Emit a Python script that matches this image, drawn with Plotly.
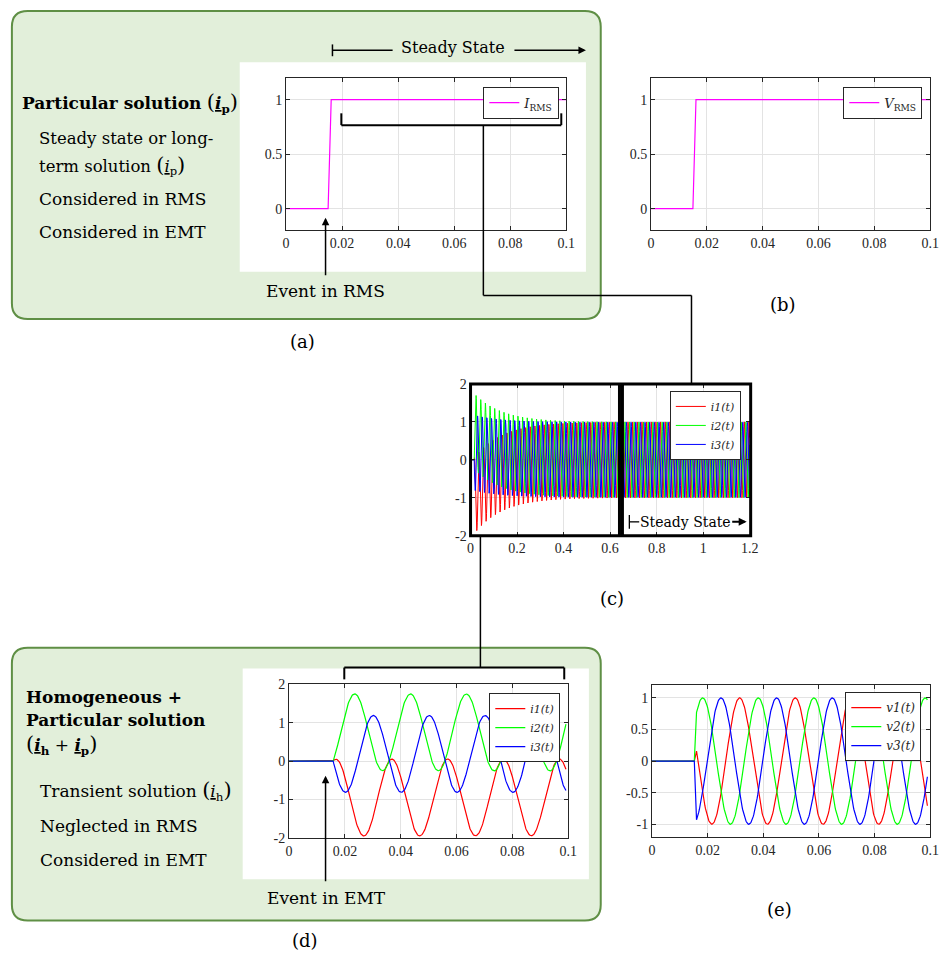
import re
import numpy as np
import plotly.graph_objects as go

W, H = 952, 963


def px(x):
    return x / W


def py(y):
    return 1 - y / H


# ---------------- data ----------------
rms_time = [0.0, 0.0150, 0.0161, 0.1]
i_rms = [0.0, 0.0, 1.0, 1.0]
v_rms = [0.0, 0.0, 1.0, 1.0]

freq_hz = 50.0
phase_names_i = ["i1(t)", "i2(t)", "i3(t)"]
phase_names_v = ["v1(t)", "v2(t)", "v3(t)"]
phase_colors = ["#ff0000", "#00ff00", "#0000ff"]

i_event_s = 0.0158                          # switching instant seen in (d)
i_first_crest_s = [0.0168, 0.0235, 0.0302]  # first crest of steady-state part
i_amplitude = [1.0, 1.0, 1.0]
i_tau_long_s = 0.12                         # DC decay visible in (c)
i_tau_zoom_s = 10.0                         # decay hardly visible in (d)
i_long_end_s = 1.2
i_zoom_end_s = 0.0993

v_event_s = 0.0155
v_first_crest_s = [0.0315, 0.0182, 0.0248]
v_amplitude = [1.0, 1.0, 1.0]
v_end_s = 0.0990

x_ticks_short = [0, 0.02, 0.04, 0.06, 0.08, 0.1]
x_ticks_short_txt = ["0", "0.02", "0.04", "0.06", "0.08", "0.1"]
x_ticks_long = [0, 0.2, 0.4, 0.6, 0.8, 1.0, 1.2]
x_ticks_long_txt = ["0", "0.2", "0.4", "0.6", "0.8", "1", "1.2"]
y_ticks_rms = [0, 0.5, 1]
y_ticks_rms_txt = ["0", "0.5", "1"]
y_ticks_i = [-2, -1, 0, 1, 2]
y_ticks_i_txt = ["-2", "-1", "0", "1", "2"]
y_ticks_v = [-1, -0.5, 0, 0.5, 1]
y_ticks_v_txt = ["-1", "-0.5", "0", "0.5", "1"]

# ---------------- waveform construction ----------------
w = 2 * np.pi * freq_hz


def current(t, crest, amp, tau):
    t = np.asarray(t)
    out = amp * (np.cos(w * (t - crest)) -
                 np.cos(w * (i_event_s - crest)) * np.exp(-(t - i_event_s) / tau))
    return np.where(t >= i_event_s - 1e-12, out, 0.0)


def voltage(t, crest, amp):
    t = np.asarray(t)
    return np.where(t >= v_event_s, amp * np.cos(w * (t - crest)), 0.0)


t_long = np.concatenate([[0.0], np.arange(i_event_s, i_long_end_s + 1e-9, 0.001)])
t_zoom = np.concatenate([[0.0], np.arange(i_event_s, i_zoom_end_s + 1e-9, 0.0002)])
t_volt = np.concatenate([[0.0, 0.0152], np.arange(0.0160, v_end_s + 1e-9, 0.0002)])

fig = go.Figure()

SERIF = "Liberation Serif"
BODY = "DejaVu Serif"
AXC = "#262626"

# (a) I_RMS
fig.add_trace(go.Scatter(x=rms_time, y=i_rms, mode="lines", name="<i>I</i><sub>RMS</sub>",
                         line=dict(color="#ff00ff", width=1.2), xaxis="x", yaxis="y",
                         legend="legend"))
# (b) V_RMS
fig.add_trace(go.Scatter(x=rms_time, y=v_rms, mode="lines", name="<i>V</i><sub>RMS</sub>",
                         line=dict(color="#ff00ff", width=1.2), xaxis="x2", yaxis="y2",
                         legend="legend2"))
# (c) long currents
for k in range(3):
    fig.add_trace(go.Scatter(x=t_long, y=current(t_long, i_first_crest_s[k], i_amplitude[k], i_tau_long_s),
                             mode="lines", name="<i>" + phase_names_i[k] + "</i>",
                             line=dict(color=phase_colors[k], width=1), xaxis="x3", yaxis="y3",
                             legend="legend3"))
# (d) zoomed currents
for k in range(3):
    fig.add_trace(go.Scatter(x=t_zoom, y=current(t_zoom, i_first_crest_s[k], i_amplitude[k], i_tau_zoom_s),
                             mode="lines", name="<i>" + phase_names_i[k] + "</i>",
                             line=dict(color=phase_colors[k], width=1.2), xaxis="x4", yaxis="y4",
                             legend="legend4"))
# (e) voltages
for k in range(3):
    fig.add_trace(go.Scatter(x=t_volt, y=voltage(t_volt, v_first_crest_s[k], v_amplitude[k]),
                             mode="lines", name="<i>" + phase_names_v[k] + "</i>",
                             line=dict(color=phase_colors[k], width=1.2), xaxis="x5", yaxis="y5",
                             legend="legend5"))


def axis(domain_px, rng, tv, tt, horizontal, anchor):
    if horizontal:
        dom = [px(domain_px[0]), px(domain_px[1])]
    else:
        dom = [py(domain_px[1]), py(domain_px[0])]
    return dict(domain=dom, range=rng, tickvals=tv, ticktext=tt, anchor=anchor,
                showline=True, linecolor=AXC, linewidth=1, mirror="ticks",
                ticks="inside", ticklen=4, tickcolor=AXC, showgrid=True,
                gridcolor="#e3e3e3", gridwidth=1, zeroline=False,
                tickfont=dict(family=SERIF, size=14, color=AXC), fixedrange=True)


boxes = {
    "a": (286, 570, 72, 227),
    "b": (656, 939, 72, 227),
    "c": (473, 756, 383, 537),
    "d": (289, 572, 688, 844),
    "e": (657, 939, 689, 843),
}
names = ["a", "b", "c", "d", "e"]
xr = {"a": [0, 0.1], "b": [0, 0.1], "c": [0, 1.2], "d": [0, 0.1], "e": [0, 0.1]}
yr = {"a": [-0.2, 1.2], "b": [-0.2, 1.2], "c": [-2, 2], "d": [-2, 2], "e": [-1.2, 1.2]}
xt = {"a": (x_ticks_short, x_ticks_short_txt), "b": (x_ticks_short, x_ticks_short_txt),
      "c": (x_ticks_long, x_ticks_long_txt), "d": (x_ticks_short, x_ticks_short_txt),
      "e": (x_ticks_short, x_ticks_short_txt)}
yt = {"a": (y_ticks_rms, y_ticks_rms_txt), "b": (y_ticks_rms, y_ticks_rms_txt),
      "c": (y_ticks_i, y_ticks_i_txt), "d": (y_ticks_i, y_ticks_i_txt),
      "e": (y_ticks_v, y_ticks_v_txt)}

layout_axes = {}
for i, n in enumerate(names):
    sfx = "" if i == 0 else str(i + 1)
    x0, x1, y0, y1 = boxes[n]
    layout_axes["xaxis" + sfx] = axis((x0, x1), xr[n], *xt[n], True, "y" + sfx)
    layout_axes["yaxis" + sfx] = axis((y0, y1), yr[n], *yt[n], False, "x" + sfx)


def legend(right, top, size):
    return dict(x=px(right), y=py(top), xanchor="right", yanchor="top",
                bgcolor="white", bordercolor="#262626", borderwidth=1,
                font=dict(family=BODY, size=size, color="#262626"),
                itemwidth=30, tracegroupgap=0, itemclick=False, itemdoubleclick=False)


GREEN_FILL = "#e2efda"
GREEN_LINE = "#5f8f45"


def rounded(x0, y0, x1, y1, r):
    X0, X1 = px(x0), px(x1)
    Y0, Y1 = py(y0), py(y1)
    rx, ry = r / W, r / H
    return (f"M {X0+rx},{Y0} L {X1-rx},{Y0} Q {X1},{Y0} {X1},{Y0-ry} "
            f"L {X1},{Y1+ry} Q {X1},{Y1} {X1-rx},{Y1} L {X0+rx},{Y1} "
            f"Q {X0},{Y1} {X0},{Y1+ry} L {X0},{Y0-ry} Q {X0},{Y0} {X0+rx},{Y0} Z")


shapes = []
# green panels
shapes.append(dict(type="path", xref="paper", yref="paper", layer="below",
                   path=rounded(8, 4, 605, 317, 16), fillcolor=GREEN_FILL,
                   line=dict(color=GREEN_LINE, width=2)))
shapes.append(dict(type="path", xref="paper", yref="paper", layer="below",
                   path=rounded(8, 651, 605, 928, 16), fillcolor=GREEN_FILL,
                   line=dict(color=GREEN_LINE, width=2)))
# white backgrounds inside green panels
for (x0, y0, x1, y1) in [(239, 56, 590, 269), (242, 672, 593, 886)]:
    shapes.append(dict(type="rect", xref="paper", yref="paper", layer="below",
                       x0=px(x0), x1=px(x1), y0=py(y1), y1=py(y0),
                       fillcolor="white", line=dict(width=0)))


def line(x0, y0, x1, y1, width=1.5, color="black"):
    shapes.append(dict(type="line", xref="paper", yref="paper", layer="above",
                       x0=px(x0), y0=py(y0), x1=px(x1), y1=py(y1),
                       line=dict(color=color, width=width)))


# thick rectangles in (c)
for (x0, x1) in [(473, 624), (627, 757)]:
    shapes.append(dict(type="rect", xref="paper", yref="paper", layer="above",
                       x0=px(x0), x1=px(x1), y0=py(537), y1=py(383),
                       line=dict(color="black", width=3)))

# "Steady State" bar at top of (a)
line(333, 38, 333, 50, 1.5)
line(333, 44, 394, 44, 1.5)
# bracket in (a) + connector to (c)
line(342, 108, 342, 120, 2)
line(565, 108, 565, 120, 2)
line(342, 120, 565, 120, 2)
line(486, 120, 486, 293, 1.5)
line(486, 293, 697, 293, 1.5)
line(697, 293, 697, 383, 1.5)
# bracket in (d) + connector from (c)
line(483, 537, 483, 671, 1.5)
line(345, 671, 568, 671, 2)
line(345, 671, 345, 683, 2)
line(568, 671, 568, 683, 2)
# "Steady State" in (c): start bar
line(634, 516, 634, 530, 1.3)
line(634, 523, 644, 523, 1.3)

annotations = []


def text(x, y, s, size=17, anchor="left", family=BODY, color="black"):
    annotations.append(dict(x=px(x), y=py(y), xref="paper", yref="paper", text=s,
                            showarrow=False, xanchor=anchor, yanchor="middle",
                            borderpad=0, borderwidth=0,
                            font=dict(family=family, size=size, color=color)))


def arrow(x_tip, y_tip, x_tail, y_tail, width=1.5, size=1.0):
    annotations.append(dict(x=px(x_tip), y=py(y_tip), xref="paper", yref="paper",
                            ax=x_tail - x_tip, ay=y_tail - y_tip, axref="pixel", ayref="pixel",
                            text="", showarrow=True, arrowhead=2, arrowsize=size,
                            arrowwidth=width, arrowcolor="black"))


BIGL = '<span style="font-size:21px">(</span>'
BIGR = '<span style="font-size:21px">)</span>'
ip_b = "<b><u><i>i</i></u></b><sub><b>p</b></sub>"
ih_b = "<b><u><i>i</i></u></b><sub><b>h</b></sub>"
ip = "<u><i>i</i></u><sub>p</sub>"
ih = "<u><i>i</i></u><sub>h</sub>"

# panel (a) texts
text(18, 98, "<b>Particular solution</b> " + BIGL + ip_b + BIGR, 17)
text(35, 134, "Steady state or long-", 16.5)
text(35, 161, "term solution " + BIGL + ip + BIGR, 16.5)
text(35, 195, "Considered in RMS", 17)
text(35, 229, "Considered in EMT", 17)
text(326, 289, "Event in RMS", 17, "center")
arrow(326, 214, 326, 273)
text(455, 41, "Steady State", 16, "center")
arrow(590, 44, 517, 44)

# panel (d) texts
text(22, 701, "<b>Homogeneous +</b>", 17)
text(22, 724, "<b>Particular solution</b>", 17)
text(22, 750, BIGL + ih_b + " + " + ip_b + BIGR, 17)
text(36, 796, "Transient solution " + BIGL + ih + BIGR, 17)
text(36, 832, "Neglected in RMS", 17)
text(36, 867, "Considered in EMT", 17)
text(327, 905, "Event in EMT", 17, "center")
arrow(326, 781, 326, 888)

# (c) steady state
text(691, 523, "Steady State", 14, "center")
arrow(753, 523, 737, 523, width=2, size=0.8)

# panel labels
text(303, 340, "(a)", 18, "center")
text(790, 302, "(b)", 18, "center")
text(616, 601, "(c)", 18, "center")
text(305, 948, "(d)", 18, "center")
text(786, 917, "(e)", 18, "center")

fig.update_layout(
    width=W, height=H, autosize=False,
    margin=dict(l=0, r=0, t=0, b=0, pad=0),
    paper_bgcolor="white", plot_bgcolor="white",
    showlegend=True,
    shapes=shapes, annotations=annotations,
    legend=legend(563, 81, 13),
    legend2=legend(931, 81, 13),
    legend3=legend(747, 390, 11),
    legend4=legend(564, 697, 11),
    legend5=legend(930, 696, 12),
    **layout_axes,
)

fig.write_html("out.html", include_plotlyjs=True, config={"displayModeBar": False})
with open("out.html", "r", encoding="utf-8") as f:
    html = f.read()
style = "<style>html,body{margin:0!important;padding:0!important;overflow:hidden;}</style>"
if "<head>" in html:
    html = html.replace("<head>", "<head>" + style, 1)
else:
    html = style + html
html = re.sub(r"<body[^>]*>", '<body style="margin:0;padding:0;overflow:hidden">', html, count=1)
with open("out.html", "w", encoding="utf-8") as f:
    f.write(html)
